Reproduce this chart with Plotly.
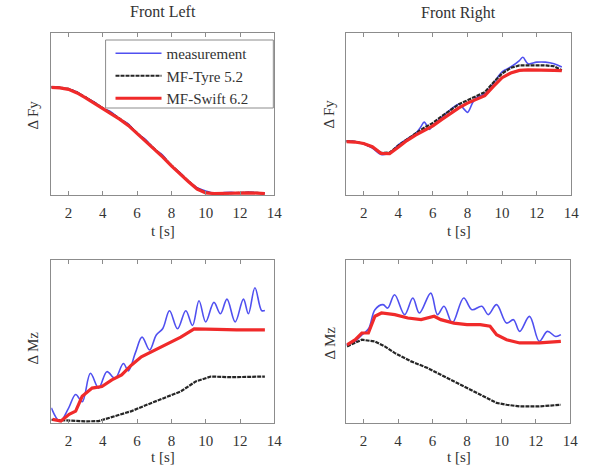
import plotly.graph_objects as go

# ---------------- data (normalised) ----------------
# Front Left, delta Fy
fl_fy_t = [1.0, 1.5, 2.0, 2.5, 3.0, 3.5, 4.0, 4.5, 5.0, 5.5, 6.0, 6.5, 7.0, 7.5,
           8.0, 8.5, 9.0, 9.5, 10.0, 10.5, 11.0, 11.5, 12.0, 12.5, 13.0, 13.45]
fl_fy_meas = [0.668, 0.664, 0.654, 0.636, 0.600, 0.574, 0.535, 0.512, 0.468, 0.438, 0.380,
              0.342, 0.284, 0.245, 0.180, 0.138, 0.082, 0.045, 0.025, 0.010, 0.014, 0.016,
              0.012, 0.018, 0.014, 0.010]
fl_fy_tyre = [0.666, 0.663, 0.655, 0.633, 0.603, 0.570, 0.538, 0.506, 0.470, 0.431, 0.384,
              0.336, 0.287, 0.237, 0.183, 0.133, 0.085, 0.040, 0.015, 0.010, 0.012, 0.014,
              0.014, 0.014, 0.013, 0.010]
fl_fy_swift = [0.664, 0.661, 0.652, 0.630, 0.600, 0.567, 0.535, 0.503, 0.467, 0.428, 0.381,
               0.333, 0.284, 0.234, 0.180, 0.130, 0.082, 0.037, 0.013, 0.009, 0.011, 0.013,
               0.013, 0.013, 0.012, 0.009]

# Front Right, delta Fy
fr_fy_t = [1.0, 1.5, 2.0, 2.5, 3.0, 3.5, 4.0, 4.5, 5.0, 5.5, 6.0, 6.5, 7.0, 7.5,
           8.0, 8.5, 9.0, 9.5, 10.0, 10.5, 11.0, 11.5, 12.0, 12.5, 13.0, 13.45]
fr_fy_swift = [0.330, 0.327, 0.318, 0.298, 0.257, 0.256, 0.295, 0.336, 0.370, 0.400, 0.427,
               0.465, 0.502, 0.538, 0.567, 0.592, 0.613, 0.671, 0.724, 0.753, 0.769, 0.772,
               0.772, 0.772, 0.769, 0.767]
fr_fy_tyre = [0.332, 0.328, 0.318, 0.296, 0.260, 0.262, 0.305, 0.345, 0.380, 0.415, 0.445,
              0.485, 0.525, 0.560, 0.585, 0.610, 0.635, 0.695, 0.750, 0.785, 0.800, 0.800,
              0.800, 0.800, 0.795, 0.770]
fr_fy_meas_t = [1.0, 1.5, 2.0, 2.5, 3.0, 3.5, 4.0, 4.5, 5.0, 5.3, 5.5, 5.8, 6.0, 6.5, 7.0,
                7.5, 7.8, 8.0, 8.3, 8.5, 9.0, 9.5, 10.0, 10.5, 11.0, 11.2, 11.5, 12.0,
                12.5, 13.0, 13.45]
fr_fy_meas = [0.335, 0.330, 0.315, 0.290, 0.250, 0.260, 0.310, 0.345, 0.380, 0.420, 0.450,
              0.405, 0.430, 0.480, 0.525, 0.560, 0.530, 0.510, 0.570, 0.600, 0.625, 0.690,
              0.760, 0.790, 0.830, 0.850, 0.810, 0.820, 0.820, 0.810, 0.790]

# Front Left, delta Mz
fl_mz_meas_t = [1.0, 1.5, 2.0, 2.42, 2.8, 3.28, 3.76, 4.24, 4.72, 5.2, 5.49, 5.9, 6.29,
                6.73, 7.12, 7.5, 7.89, 8.36, 8.84, 9.23, 9.61, 10.0, 10.48, 10.86, 11.24,
                11.72, 12.2, 12.49, 12.87, 13.26, 13.45]
fl_mz_meas = [0.093, 0.010, 0.090, 0.175, 0.130, 0.305, 0.214, 0.315, 0.273, 0.365, 0.320,
              0.430, 0.527, 0.448, 0.540, 0.580, 0.689, 0.578, 0.689, 0.598, 0.750, 0.620,
              0.740, 0.670, 0.760, 0.620, 0.760, 0.670, 0.830, 0.690, 0.690]
fl_mz_tyre_t = [1.0, 2.0, 3.0, 3.76, 4.7, 5.68, 6.6, 7.6, 8.55, 9.42, 10.3, 11.5, 13.45]
fl_mz_tyre = [0.020, 0.015, 0.010, 0.012, 0.042, 0.073, 0.113, 0.153, 0.194, 0.255, 0.285,
              0.281, 0.285]
fl_mz_swift_t = [1.07, 1.56, 2.04, 2.42, 2.8, 3.38, 3.95, 4.53, 5.1, 5.68, 6.25, 7.02, 7.79,
                 8.55, 9.33, 9.9, 10.67, 11.8, 13.45]
fl_mz_swift = [0.022, 0.012, 0.053, 0.073, 0.164, 0.214, 0.224, 0.265, 0.295, 0.356, 0.406,
               0.447, 0.487, 0.527, 0.578, 0.578, 0.574, 0.571, 0.571]

# Front Right, delta Mz
fr_mz_meas_t = [1.0, 1.5, 1.9, 2.3, 2.66, 3.13, 3.4, 3.8, 4.38, 4.86, 5.24, 5.9, 6.29, 6.67,
                7.15, 7.81, 8.29, 8.86, 9.24, 9.72, 10.3, 10.7, 11.06, 11.63, 12.2, 12.67,
                13.15, 13.45]
fr_mz_meas = [0.480, 0.500, 0.540, 0.580, 0.695, 0.726, 0.705, 0.787, 0.665, 0.767, 0.675,
              0.797, 0.665, 0.716, 0.613, 0.767, 0.695, 0.716, 0.665, 0.726, 0.613, 0.634,
              0.562, 0.654, 0.501, 0.562, 0.531, 0.542]
fr_mz_tyre_t = [1.04, 1.9, 2.66, 3.23, 3.8, 4.76, 5.72, 6.67, 7.62, 8.77, 9.72, 10.3, 11.06,
                12.2, 13.45]
fr_mz_tyre = [0.470, 0.511, 0.500, 0.470, 0.430, 0.378, 0.337, 0.286, 0.235, 0.174, 0.123,
              0.112, 0.102, 0.102, 0.112]
fr_mz_swift_t = [1.04, 1.52, 1.9, 2.28, 2.66, 3.04, 3.81, 4.57, 5.34, 6.1, 6.48, 7.24, 8.0,
                 8.77, 9.34, 9.72, 10.3, 11.06, 12.2, 13.45]
fr_mz_swift = [0.480, 0.511, 0.552, 0.552, 0.655, 0.675, 0.665, 0.644, 0.634, 0.655, 0.634,
               0.613, 0.603, 0.603, 0.594, 0.542, 0.511, 0.491, 0.491, 0.501]

x_ticks = [2, 4, 6, 8, 10, 12, 14]
series_names = ["measurement", "MF-Tyre 5.2", "MF-Swift 6.2"]
panel_titles = ["Front Left", "Front Right"]
x_label = "t [s]"
y_labels = ["\u0394 Fy", "\u0394 Mz"]

# ---------------- styling ----------------
W, H = 603, 466
FONT = "Liberation Serif"
BLUE = "#5050f0"
BLACK = "#262626"
RED = "#f02a2a"
FRAME = "#8c8c8c"
TXT = "#333"

def px(x):
    return x / W

def py(y):
    return 1 - y / H

panels = [
    dict(xd=(52, 278), yd=(33, 195),
         data=[(fl_fy_t, fl_fy_meas), (fl_fy_t, fl_fy_tyre), (fl_fy_t, fl_fy_swift)]),
    dict(xd=(351, 579), yd=(33, 195),
         data=[(fr_fy_meas_t, fr_fy_meas), (fr_fy_t, fr_fy_tyre), (fr_fy_t, fr_fy_swift)]),
    dict(xd=(52, 278), yd=(260, 423),
         data=[(fl_mz_meas_t, fl_mz_meas), (fl_mz_tyre_t, fl_mz_tyre),
               (fl_mz_swift_t, fl_mz_swift)]),
    dict(xd=(351, 578), yd=(260, 423),
         data=[(fr_mz_meas_t, fr_mz_meas), (fr_mz_tyre_t, fr_mz_tyre),
               (fr_mz_swift_t, fr_mz_swift)]),
]

fig = go.Figure()
styles = [
    dict(color=BLUE, width=1.6, shape="spline"),
    dict(color=BLACK, width=2.2, dash="4px,1px"),
    dict(color=RED, width=3.2),
]

layout = dict(
    width=W, height=H,
    margin=dict(l=0, r=0, t=0, b=0),
    paper_bgcolor="white", plot_bgcolor="white",
    font=dict(family=FONT, size=14, color=TXT),
    showlegend=True,
    legend=dict(x=px(112), y=py(37), xanchor="left", yanchor="top",
                borderwidth=0, bgcolor="rgba(0,0,0,0)",
                font=dict(family=FONT, size=15, color=TXT),
                itemwidth=46, tracegroupgap=0),
)

for i, p in enumerate(panels):
    n = "" if i == 0 else str(i + 1)
    for j, (tt, vv) in enumerate(p["data"]):
        fig.add_trace(go.Scatter(
            x=tt, y=vv, mode="lines", name=series_names[j],
            line=styles[j], showlegend=(i == 0),
            xaxis="x" + n, yaxis="y" + n))
    layout["xaxis" + n] = dict(
        domain=[px(p["xd"][0]), px(p["xd"][1])], range=[1, 14],
        anchor="y" + n, tickvals=x_ticks, ticks="inside", ticklen=4,
        tickcolor=FRAME, showline=True, linecolor=FRAME, linewidth=1,
        mirror="allticks", showgrid=False, zeroline=False, ticklabelstandoff=4,
        tickfont=dict(family=FONT, size=15, color=TXT))
    layout["yaxis" + n] = dict(
        domain=[py(p["yd"][1]), py(p["yd"][0])], range=[0, 1],
        anchor="x" + n, showticklabels=False, ticks="",
        showline=True, linecolor=FRAME, linewidth=1, mirror=True,
        showgrid=False, zeroline=False)

fig.update_layout(**layout)

# legend frame
fig.add_shape(type="rect", xref="paper", yref="paper",
              x0=px(107), x1=px(277), y0=py(108), y1=py(40),
              line=dict(color=FRAME, width=1), fillcolor="white", layer="above")

ann = []
ann.append(dict(text=panel_titles[0], x=px(165), y=py(12), size=16))
ann.append(dict(text=panel_titles[1], x=px(465), y=py(13), size=16))
for cx in (165, 465):
    ann.append(dict(text=x_label, x=px(cx), y=py(231), size=15))
    ann.append(dict(text=x_label, x=px(cx), y=py(457), size=15))
ann.append(dict(text=y_labels[0], x=px(33), y=py(115), textangle=-90, size=15))
ann.append(dict(text=y_labels[0], x=px(333), y=py(114), textangle=-90, size=15))
ann.append(dict(text=y_labels[1], x=px(33), y=py(348), textangle=-90, size=15))
ann.append(dict(text=y_labels[1], x=px(334), y=py(343), textangle=-90, size=15))
for a in ann:
    s = a.pop("size")
    a.update(xref="paper", yref="paper", showarrow=False, xanchor="center",
             yanchor="middle", font=dict(family=FONT, size=s, color=TXT))
fig.update_layout(annotations=ann)

fig.write_html("out.html", config={"displayModeBar": False},
               post_script="document.body.style.margin='0px';")
